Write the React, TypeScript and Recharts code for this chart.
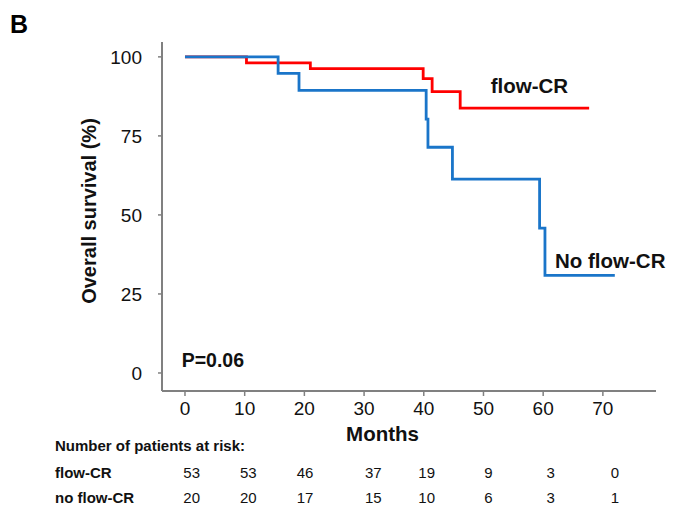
import React from "react";
import { LineChart, Line, XAxis, YAxis } from "recharts";

if (typeof document !== "undefined") {
  document.body.style.margin = "0";
}

// Kaplan-Meier step points: months, survival (%)
const flowCR = [
  { t: 0, s: 100 },
  { t: 10.3, s: 98.1 },
  { t: 21.0, s: 96.3 },
  { t: 39.9, s: 93.1 },
  { t: 41.4, s: 89.0 },
  { t: 46.1, s: 83.8 },
  { t: 67.7, s: 83.8 },
];

const noFlowCR = [
  { t: 0, s: 100 },
  { t: 15.6, s: 94.8 },
  { t: 19.1, s: 89.4 },
  { t: 40.4, s: 80.3 },
  { t: 40.7, s: 71.4 },
  { t: 44.8, s: 61.3 },
  { t: 59.4, s: 45.8 },
  { t: 60.3, s: 30.9 },
  { t: 72.0, s: 30.9 },
];

const xTicks = [0, 10, 20, 30, 40, 50, 60, 70];
const yTicks = [0, 25, 50, 75, 100];

const riskFlowCR = [53, 53, 46, 37, 19, 9, 3, 0];
const riskNoFlowCR = [20, 20, 17, 15, 10, 6, 3, 1];

const FONT = "Arial, 'Liberation Sans', Helvetica, sans-serif";
const RISK_COLS = [191.7, 248.3, 305, 373.3, 426.7, 488.3, 550.7, 615];
const AXIS = "#808080";
const TXT = "#111111";

export default function App() {
  return (
    <div style={{ position: "relative", width: 680, height: 509, background: "#fff", fontFamily: FONT }}>
      <LineChart width={680} height={509} margin={{ top: 42, right: 24, bottom: 88, left: 0 }}>
        <XAxis
          type="number"
          dataKey="t"
          domain={[-3.85, 78.9]}
          allowDataOverflow
          ticks={xTicks}
          interval={0}
          height={30}
          tickSize={5}
          tickMargin={6}
          axisLine={{ stroke: AXIS, strokeWidth: 2 }}
          tickLine={{ stroke: AXIS, strokeWidth: 1.5 }}
          tick={{ fill: TXT, fontSize: 19, fontFamily: FONT }}
        />
        <YAxis
          type="number"
          domain={[-5.7, 104.7]}
          allowDataOverflow
          ticks={yTicks}
          interval={0}
          width={162}
          tickSize={4}
          tickMargin={16}
          axisLine={{ stroke: AXIS, strokeWidth: 2 }}
          tickLine={{ stroke: AXIS, strokeWidth: 1.5 }}
          tick={{ fill: TXT, fontSize: 19, fontFamily: FONT }}
        />
        <Line
          data={flowCR}
          dataKey="s"
          type="stepAfter"
          stroke="#ff0000"
          strokeWidth={2.8}
          dot={false}
          activeDot={false}
          isAnimationActive={false}
        />
        <Line
          data={noFlowCR}
          dataKey="s"
          type="stepAfter"
          stroke="#1a75c9"
          strokeWidth={2.8}
          dot={false}
          activeDot={false}
          isAnimationActive={false}
        />
      </LineChart>
      <svg
        width={680}
        height={509}
        style={{ position: "absolute", left: 0, top: 0, pointerEvents: "none" }}
        fontFamily={FONT}
      >
        <text x={10} y={33} fontSize={25} fontWeight="bold" fill="#000">B</text>
        <text
          transform="translate(96,211) rotate(-90)"
          textAnchor="middle"
          fontSize={20}
          fontWeight="bold"
          fill={TXT}
        >
          Overall survival (%)
        </text>
        <text x={490.7} y={92.7} fontSize={20.5} fontWeight="bold" fill={TXT}>flow-CR</text>
        <text x={555} y={268.3} fontSize={20.5} fontWeight="bold" fill={TXT}>No flow-CR</text>
        <text x={181.7} y={366.7} fontSize={19.5} fontWeight="bold" fill={TXT}>P=0.06</text>
        <text x={382.5} y={441} textAnchor="middle" fontSize={20.5} fontWeight="bold" fill={TXT}>Months</text>
        <text x={55} y={450.7} fontSize={15} fontWeight="bold" fill={TXT}>Number of patients at risk:</text>
        <text x={55} y={478.3} fontSize={15} fontWeight="bold" fill={TXT}>flow-CR</text>
        <text x={55} y={503.3} fontSize={15} fontWeight="bold" fill={TXT}>no flow-CR</text>
        {riskFlowCR.map((v, i) => (
          <text key={"a" + i} x={RISK_COLS[i]} y={478.3} textAnchor="middle" fontSize={15} fill={TXT}>{v}</text>
        ))}
        {riskNoFlowCR.map((v, i) => (
          <text key={"b" + i} x={RISK_COLS[i]} y={503.3} textAnchor="middle" fontSize={15} fill={TXT}>{v}</text>
        ))}
      </svg>
    </div>
  );
}
